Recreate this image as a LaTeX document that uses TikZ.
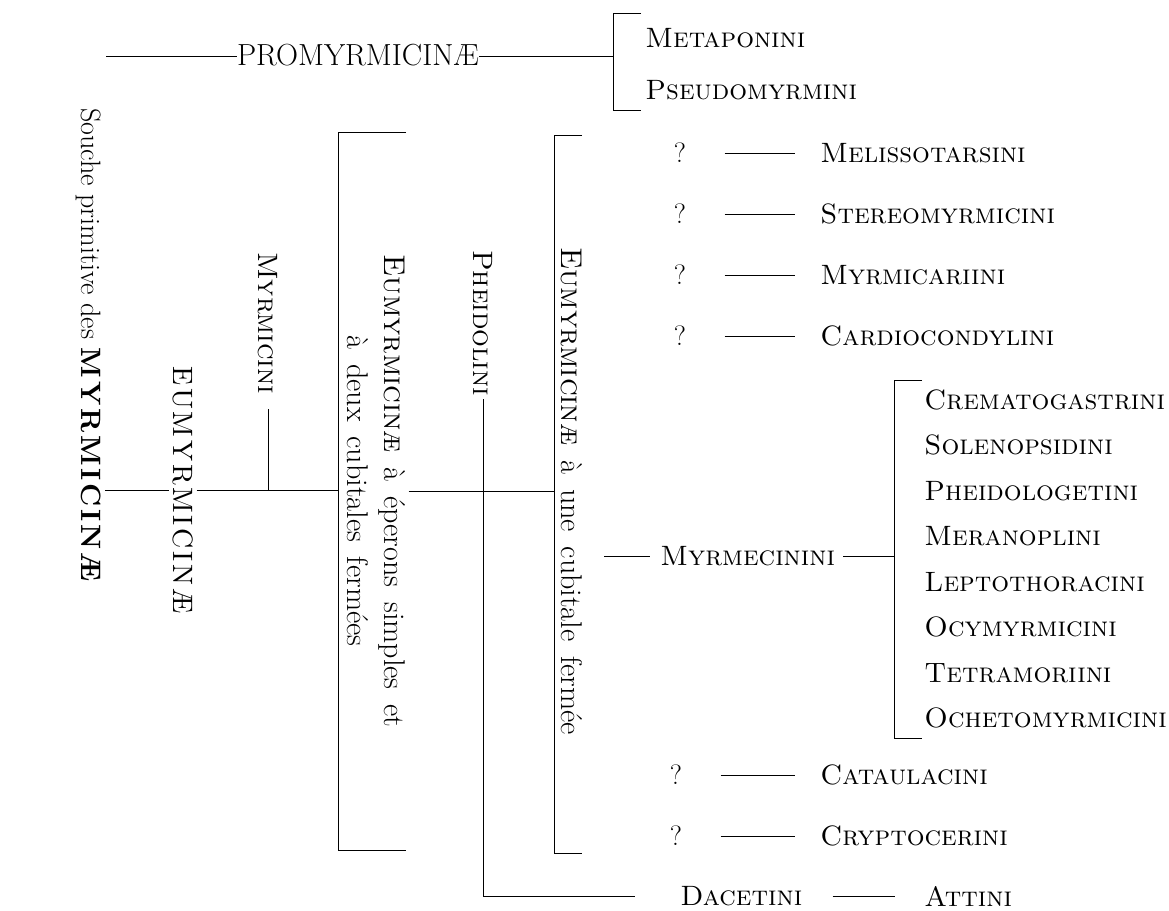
\documentclass[tikz,border=0pt]{standalone}
\usepackage{fontspec}
\usetikzlibrary{positioning}
\newfontfamily\spacedfont{lmroman10-regular.otf}[BoldFont=lmroman10-bold.otf, LetterSpace=10]
\newcommand\widespace{\spaceskip=0.5em plus 2pt minus 1pt\relax}

\tikzset{
  txt/.style={font=\fontsize{28}{37}\selectfont, inner sep=0pt},
  tribe/.style={txt, font=\fontsize{28}{37}\selectfont\scshape, anchor=west},
  vert/.style={txt, rotate=-90, inner sep=3pt},
  vsc/.style={vert, font=\fontsize{28}{37}\selectfont\scshape},
  vlong/.style={vert, font=\fontsize{30}{37}\selectfont\widespace},
  tie/.style={shorten <=38pt, shorten >=25pt}
}

\begin{document}
\begin{tikzpicture}[x=1pt, y=-1pt, line width=0.9pt]
\useasboundingbox (0,0) rectangle (1169,910);

% Promyrmicinae
\coordinate (root0) at (106,56);
\node[txt, font=\fontsize{30.5}{37}\selectfont] (promyr) at (358,55) {PROMYRMICINÆ};
\coordinate (k0a) at (613,13);
\coordinate (k0b) at (613,110);
\draw (root0) -- (root0 -| promyr.west);
\draw (promyr.east |- root0) -- (root0 -| k0a);
\draw ([xshift=28pt]k0a) -- (k0a) -- (k0b) -- ([xshift=28pt]k0b);
\node[tribe] (metap) at (645,38) {Metaponini};
\node[tribe] (pseudo) at (645,90) {Pseudomyrmini};

% souche et Eumyrmicinae
\node[vert] (souche) at (89,345) {Souche primitive des {\spacedfont\bfseries MYRMICINÆ}};
\node[vert] (eumyr) at (183,490) {\spacedfont EUMYRMICINÆ};
\node[vsc] (myrmicini) at (268,323) {Myrmicini};
\coordinate (k1a) at (338,132);
\coordinate (k1b) at (338,850);
\draw (souche.north |- eumyr) -- (eumyr.south);
\draw (eumyr.north) -- (eumyr.north -| k1a);
\draw[shorten <=12pt] (myrmicini.east) -- (myrmicini.east |- eumyr.north);
\draw ([xshift=68pt]k1a) -- (k1a) -- (k1b) -- ([xshift=68pt]k1b);

% deux cubitales
\node[vlong, align=center] (eper) at (376,491) {\textsc{Eumyrmicinæ} à éperons simples et\\à deux cubitales fermées};
\node[vsc] (pheid) at (483,323) {Pheidolini};
\coordinate (k2a) at (554,135);
\coordinate (k2b) at (554,853);
\draw (eper.north) -- (eper.north -| k2a);
\draw ([xshift=28pt]k2a) -- (k2a) -- (k2b) -- ([xshift=28pt]k2b);

% une cubitale
\node[vlong] (cubit) at (572,491) {\textsc{Eumyrmicinæ} à une cubitale fermée};

\node[txt] (q1) at (680,153) {?};
\node[tribe] (melis) at (820,153) {Melissotarsini};
\draw[tie] (q1) -- (melis);
\node[txt] (q2) at (680,214) {?};
\node[tribe] (stereo) at (820,214) {Stereomyrmicini};
\draw[tie] (q2) -- (stereo);
\node[txt] (q3) at (680,275) {?};
\node[tribe] (myrmic) at (820,275) {Myrmicariini};
\draw[tie] (q3) -- (myrmic);
\node[txt] (q4) at (680,336) {?};
\node[tribe] (cardio) at (820,336) {Cardiocondylini};
\draw[tie] (q4) -- (cardio);

% Myrmecinini
\node[tribe] (myrmec) at (660,556) {Myrmecinini};
\coordinate (k3a) at (894,380);
\coordinate (k3b) at (894,738);
\draw[shorten <=18pt, shorten >=10pt] (cubit.north |- myrmec) -- (myrmec.west);
\draw[shorten <=8pt] (myrmec.east) -- (myrmec.east -| k3a);
\draw ([xshift=28pt]k3a) -- (k3a) -- (k3b) -- ([xshift=28pt]k3b);
\node[tribe] (cremat) at (924,400) {Crematogastrini};
\node[tribe] (soleno) at (924,445) {Solenopsidini};
\node[tribe] (pheidol) at (924,491) {Pheidologetini};
\node[tribe] (merano) at (924,536) {Meranoplini};
\node[tribe] (lepto) at (924,582) {Leptothoracini};
\node[tribe] (ocymyr) at (924,627) {Ocymyrmicini};
\node[tribe] (tetram) at (924,673) {Tetramoriini};
\node[tribe] (ocheto) at (924,718) {Ochetomyrmicini};

\node[txt] (q5) at (676,775) {?};
\node[tribe] (catau) at (820,775) {Cataulacini};
\draw[tie] (q5) -- (catau);
\node[txt] (q6) at (676,836) {?};
\node[tribe] (crypto) at (820,836) {Cryptocerini};
\draw[tie] (q6) -- (crypto);

% Dacetini
\node[tribe] (dacet) at (680,896) {Dacetini};
\node[tribe] (attini) at (924,896) {Attini};
\coordinate (dacL) at (635,896);
\draw (pheid.east) |- (dacL);
\draw[shorten <=30pt, shorten >=29pt] (dacet.east) -- (attini.west);
\end{tikzpicture}
\end{document}
